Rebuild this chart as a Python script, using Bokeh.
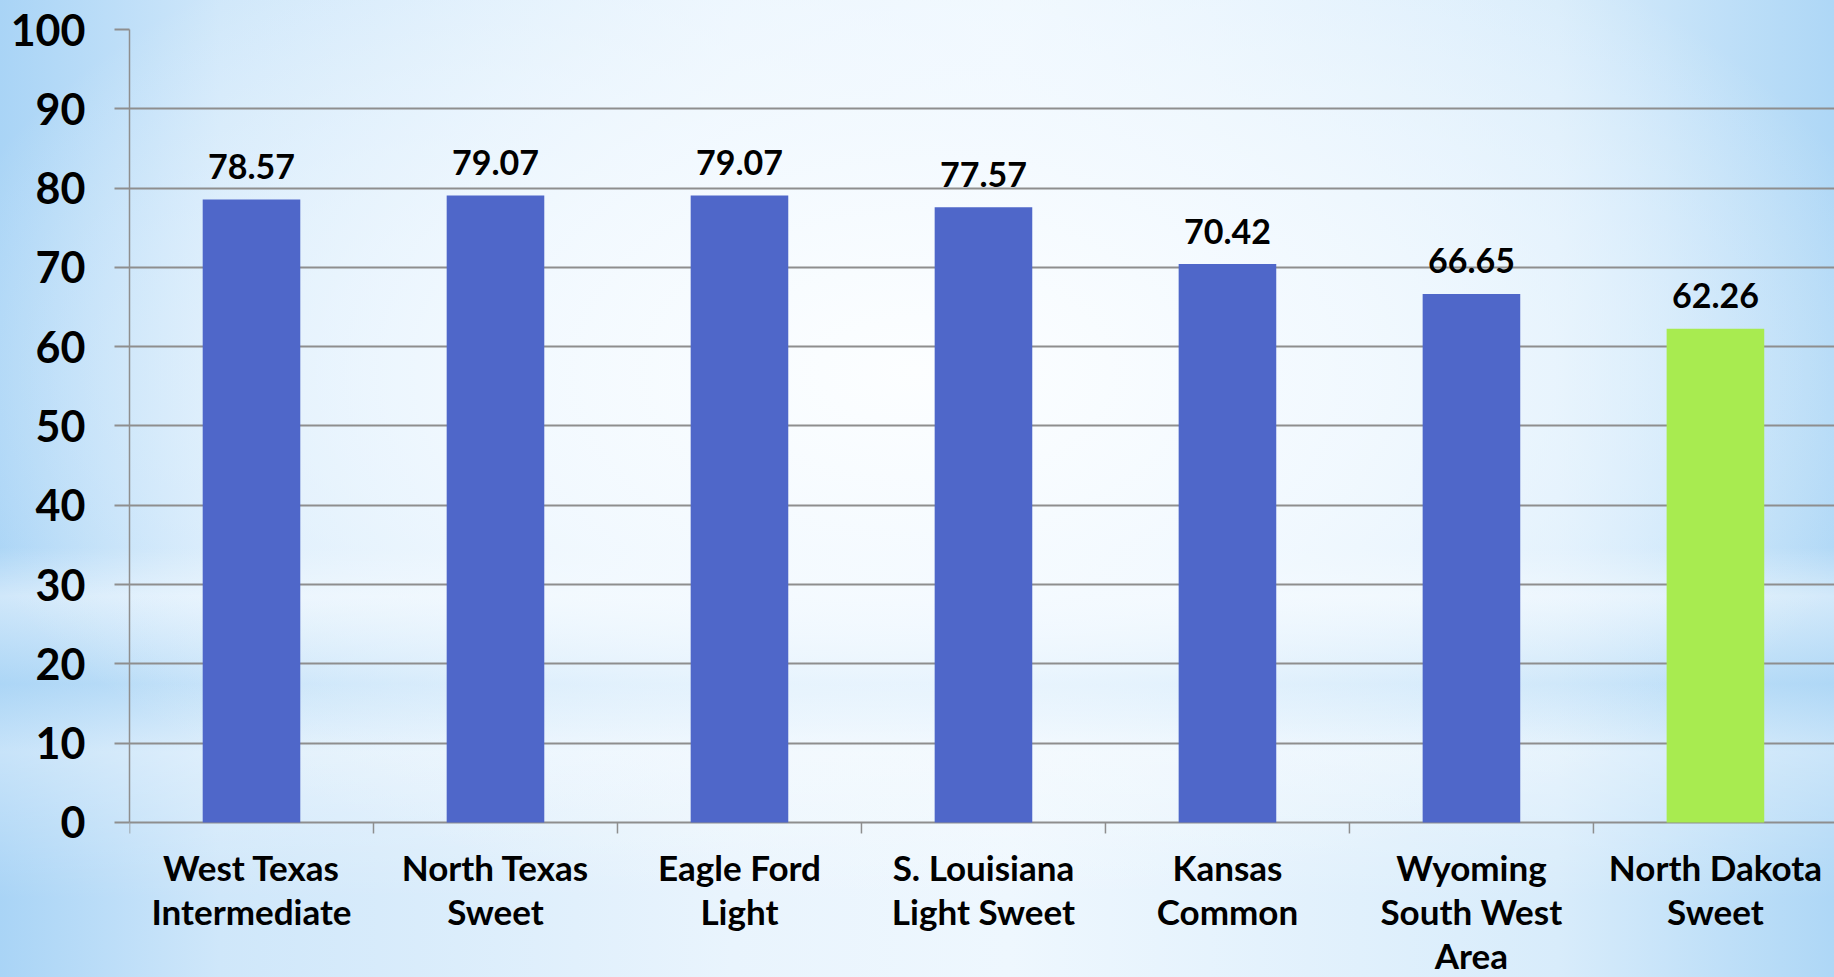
import math
from bokeh.plotting import figure
from bokeh.models import Range1d, FixedTicker, GlobalInlineStyleSheet
from bokeh.core.properties import value
from bokeh.embed import file_html
from bokeh.resources import INLINE

# ---- data ----
categories = [
    "West Texas\nIntermediate",
    "North Texas\nSweet",
    "Eagle Ford\nLight",
    "S. Louisiana\nLight Sweet",
    "Kansas\nCommon",
    "Wyoming\nSouth West\nArea",
    "North Dakota\nSweet",
]
prices = [78.57, 79.07, 79.07, 77.57, 70.42, 66.65, 62.26]
y_ticks = [0, 10, 20, 30, 40, 50, 60, 70, 80, 90, 100]

BLUE = "#4f67c9"
GREEN = "#a8eb50"
GRAY = "#8e8e8e"
FONT = "Lato"

xs = list(range(len(categories)))
colors = [BLUE] * (len(categories) - 1) + [GREEN]
labels = ["%.2f" % v for v in prices]
boundaries = [i - 0.5 for i in range(len(categories) + 1)]

bg_css = """
html {
  background:
    radial-gradient(ellipse 55% 55% at 50% 38%, rgba(252,254,255,1) 0%, rgba(244,250,255,0.85) 45%, rgba(240,248,254,0) 100%),
    linear-gradient(180deg, rgba(255,255,255,0) 0%, rgba(255,255,255,0) 56%, rgba(255,255,255,0.45) 61%, rgba(176,216,246,0.45) 70%, rgba(255,255,255,0.35) 77%, rgba(255,255,255,0) 92%),
    linear-gradient(90deg, #a9d4f6 0%, #cfe7fa 12%, #e9f4fd 40%, #eef7fe 55%, #d8ecfb 85%, #aed7f6 100%);
  min-height: 100%;
}
body { background: transparent; }
"""

# the frame reaches the bottom of the page; the region below 0 holds the category labels
p = figure(
    width=1834, height=977,
    x_range=Range1d(-0.5, 6.488), y_range=Range1d(-19.55, 100),
    output_backend="svg", toolbar_location=None, x_axis_location=None,
    min_border_left=129, min_border_right=0, min_border_top=29, min_border_bottom=0,
)
p.stylesheets = [GlobalInlineStyleSheet(css=bg_css)]
p.background_fill_alpha = 0
p.border_fill_alpha = 0
p.outline_line_color = None

# grid (the 0 line doubles as the category axis line)
p.xgrid.grid_line_color = None
p.ygrid.grid_line_color = GRAY
p.ygrid.grid_line_width = 2
p.ygrid.ticker = FixedTicker(ticks=y_ticks)

# category boundary ticks below the axis line
p.ray(x=boundaries, y=[0] * len(boundaries), length=11, length_units="screen",
      angle=-math.pi / 2, line_color=GRAY, line_width=1.5)

p.vbar(x=xs, top=prices, width=0.4, color=colors, line_color=None)
p.text(x=xs, y=prices, text=labels, text_align="center", text_baseline="alphabetic",
       y_offset=-33, text_font=value(FONT), text_font_style="bold",
       text_font_size="34px", text_color="black")

# category labels
p.text(x=xs, y=[0] * len(xs), text=categories, text_align="center", text_baseline="top",
       y_offset=24, text_font=value(FONT), text_font_style="bold",
       text_font_size="35px", text_line_height=1.04, text_color="black")

# y axis
p.yaxis.ticker = FixedTicker(ticks=y_ticks)
p.yaxis.bounds = (0, 100)
p.yaxis.axis_line_color = GRAY
p.yaxis.axis_line_width = 1.5
p.yaxis.major_tick_line_color = GRAY
p.yaxis.major_tick_line_width = 2
p.yaxis.major_tick_out = 15
p.yaxis.major_tick_in = 0
p.yaxis.minor_tick_line_color = None
p.yaxis.major_label_standoff = 29
p.yaxis.major_label_text_font = FONT
p.yaxis.major_label_text_font_style = "bold"
p.yaxis.major_label_text_font_size = "43px"
p.yaxis.major_label_text_color = "black"

open("out.html", "w").write(file_html(p, INLINE))
